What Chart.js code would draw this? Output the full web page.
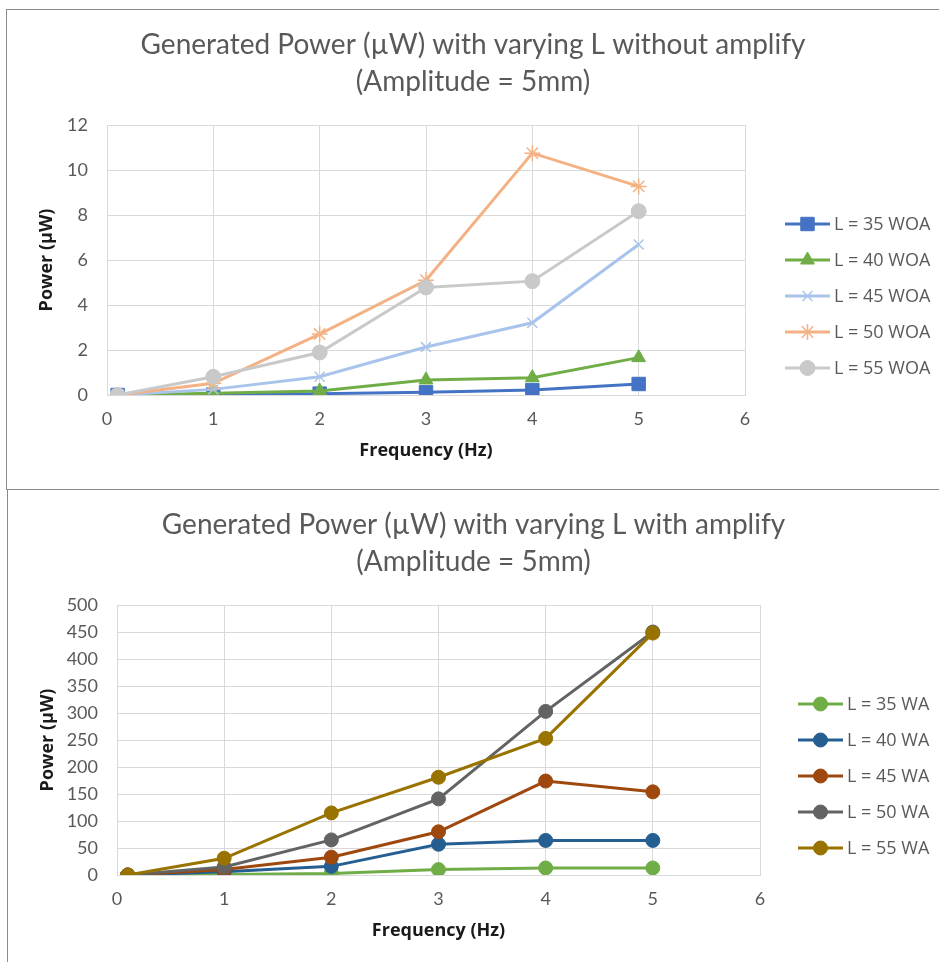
<!DOCTYPE html>
<html>
<head>
<meta charset="utf-8">
<script src="https://cdn.jsdelivr.net/npm/chart.js@4/dist/chart.umd.min.js"></script>
<style>
  html, body { margin: 0; padding: 0; background: #fff; }
  body { width: 939px; height: 962px; position: relative; overflow: hidden; }
  .frame { position: absolute; background: #8c8c8c; }
  canvas { position: absolute; }
  #c1 { left: 7px; top: 10px; }
  #c2 { left: 8px; top: 490px; }
</style>
</head>
<body>
<div class="frame" style="left:6px; top:9px; width:933px; height:1px;"></div>
<div class="frame" style="left:6px; top:9px; width:1px; height:481px;"></div>
<div class="frame" style="left:6px; top:489px; width:933px; height:1px;"></div>
<div class="frame" style="left:7px; top:490px; width:1px; height:472px;"></div>
<canvas id="c1" width="932" height="479"></canvas>
<canvas id="c2" width="931" height="472"></canvas>
<script>
// frequency points (Hz), shared by both charts
const freq = [0.1, 1, 2, 3, 4, 5];

// power without amplifier (µW)
const woa35 = [0, 0.02, 0.06, 0.12, 0.22, 0.49];
const woa40 = [0, 0.08, 0.18, 0.67, 0.77, 1.66];
const woa45 = [0, 0.25, 0.81, 2.13, 3.21, 6.69];
const woa50 = [0, 0.52, 2.71, 5.10, 10.75, 9.27];
const woa55 = [0, 0.81, 1.89, 4.78, 5.06, 8.17];

// power with amplifier (µW)
const wa35 = [0, 1, 3, 10, 13, 13];
const wa40 = [0, 6, 16, 57, 64, 64];
const wa45 = [0, 10, 33, 80, 174, 154];
const wa50 = [0, 15, 65, 141, 303, 450];
const wa55 = [0, 31, 115, 181, 253, 448];

const xTicks = [0, 1, 2, 3, 4, 5, 6];

const pts = vals => freq.map((f, i) => ({ x: f, y: vals[i] }));

function series(label, vals, color, style, radius, bw, order) {
  return {
    label, data: pts(vals), order,
    borderColor: color, backgroundColor: color, borderWidth: 3,
    pointStyle: style, pointRadius: radius, pointHoverRadius: radius,
    pointBackgroundColor: color, pointBorderColor: color, pointBorderWidth: bw,
    tension: 0
  };
}

// legend as its own layout box on the right: short line with the marker
// in the middle, label to the right
const lineLegend = {
  id: 'lineLegend',
  beforeInit(chart, args, opts) {
    const box = {
      position: 'right', weight: 1000, fullSize: false, options: {},
      left: 0, top: 0, right: 0, bottom: 0, width: 0, height: 0,
      isHorizontal() { return false; },
      update(maxWidth, maxHeight) { this.width = opts.width; this.height = maxHeight; },
      draw() {
        const ctx = chart.ctx;
        chart.data.datasets.forEach((ds, i) => {
          const y = opts.top + i * opts.step;
          ctx.save();
          ctx.strokeStyle = ds.borderColor;
          ctx.lineWidth = ds.borderWidth;
          ctx.beginPath();
          ctx.moveTo(opts.x, y);
          ctx.lineTo(opts.x + opts.len, y);
          ctx.stroke();
          ctx.fillStyle = ds.pointBackgroundColor;
          ctx.strokeStyle = ds.pointBorderColor;
          ctx.lineWidth = ds.pointBorderWidth;
          Chart.helpers.drawPoint(ctx, {
            pointStyle: ds.pointStyle, radius: ds.pointRadius,
            rotation: 0, borderWidth: ds.pointBorderWidth
          }, opts.x + opts.len / 2, y);
          ctx.fillStyle = '#595959';
          ctx.font = '18px "Open Sans"';
          ctx.textBaseline = 'middle';
          ctx.textAlign = 'left';
          ctx.fillText(ds.label, opts.x + opts.len + 4, y + 1);
          ctx.restore();
        });
      }
    };
    Chart.layouts.addBox(chart, box);
  }
};

function makeChart(id, titleLines, datasets, yMax, yStep, yWidth, xHeight, xTitlePad, legendW, legendX) {
  return new Chart(document.getElementById(id), {
    type: 'line',
    data: { datasets },
    plugins: [lineLegend],
    options: {
      responsive: false,
      animation: false,
      events: [],
      layout: { padding: 0 },
      plugins: {
        legend: { display: false },
        tooltip: { enabled: false },
        title: {
          display: true,
          text: titleLines,
          color: '#595959',
          font: { family: 'Lato', size: 28, weight: 'normal', lineHeight: '37px' },
          padding: { top: 16, bottom: 25 }
        },
        lineLegend: { width: legendW, x: legendX, len: 45, top: 214, step: 36 }
      },
      scales: {
        x: {
          type: 'linear', min: 0, max: 6,
          afterFit(s) { s.height = xHeight; },
          afterBuildTicks(s) { s.ticks = xTicks.map(v => ({ value: v })); },
          grid: { color: '#d9d9d9', lineWidth: 1, drawTicks: false },
          border: { color: '#d9d9d9' },
          ticks: { color: '#595959', padding: 13, font: { family: 'Lato', size: 18 } },
          title: {
            display: true, text: 'Frequency (Hz)', color: '#1a1a1a',
            font: { family: 'Open Sans', size: 18, weight: 'bold', lineHeight: 1.2 },
            padding: { top: 0, bottom: xTitlePad }
          }
        },
        y: {
          min: 0, max: yMax,
          afterFit(s) { s.width = yWidth; },
          grid: { color: '#d9d9d9', lineWidth: 1, drawTicks: false },
          border: { color: '#d9d9d9' },
          ticks: { stepSize: yStep, color: '#595959', padding: 19, font: { family: 'Lato', size: 18 } },
          title: {
            display: true, text: 'Power (µW)', color: '#1a1a1a',
            font: { family: 'Open Sans', size: 18, weight: 'bold', lineHeight: 1.2 },
            padding: { top: 29, bottom: 0 }
          }
        }
      }
    }
  });
}

makeChart('c1',
  ['Generated Power (µW) with varying L without amplify', '(Amplitude = 5mm)'],
  [
    series('L = 35 WOA', woa35, '#4472C4', 'rect', 9.5, 1, 4),
    series('L = 40 WOA', woa40, '#70AD47', 'triangle', 8, 1, 3),
    series('L = 45 WOA', woa45, '#A9C4EB', 'crossRot', 7, 1.5, 2),
    series('L = 50 WOA', woa50, '#F4B183', 'star', 8, 1.5, 1),
    series('L = 55 WOA', woa55, '#C9C9C9', 'circle', 7.5, 1, 0)
  ],
  12, 2, 100, 94, 27, 194, 778);

makeChart('c2',
  ['Generated Power (µW) with varying L with amplify', '(Amplitude = 5mm)'],
  [
    series('L = 35 WA', wa35, '#70AD47', 'circle', 7, 1, 4),
    series('L = 40 WA', wa40, '#255E91', 'circle', 7, 1, 3),
    series('L = 45 WA', wa45, '#9E480E', 'circle', 7, 1, 2),
    series('L = 50 WA', wa50, '#636363', 'circle', 7, 1, 1),
    series('L = 55 WA', wa55, '#997300', 'circle', 7, 1, 0)
  ],
  500, 50, 109, 87, 20, 179, 790);
</script>
</body>
</html>
